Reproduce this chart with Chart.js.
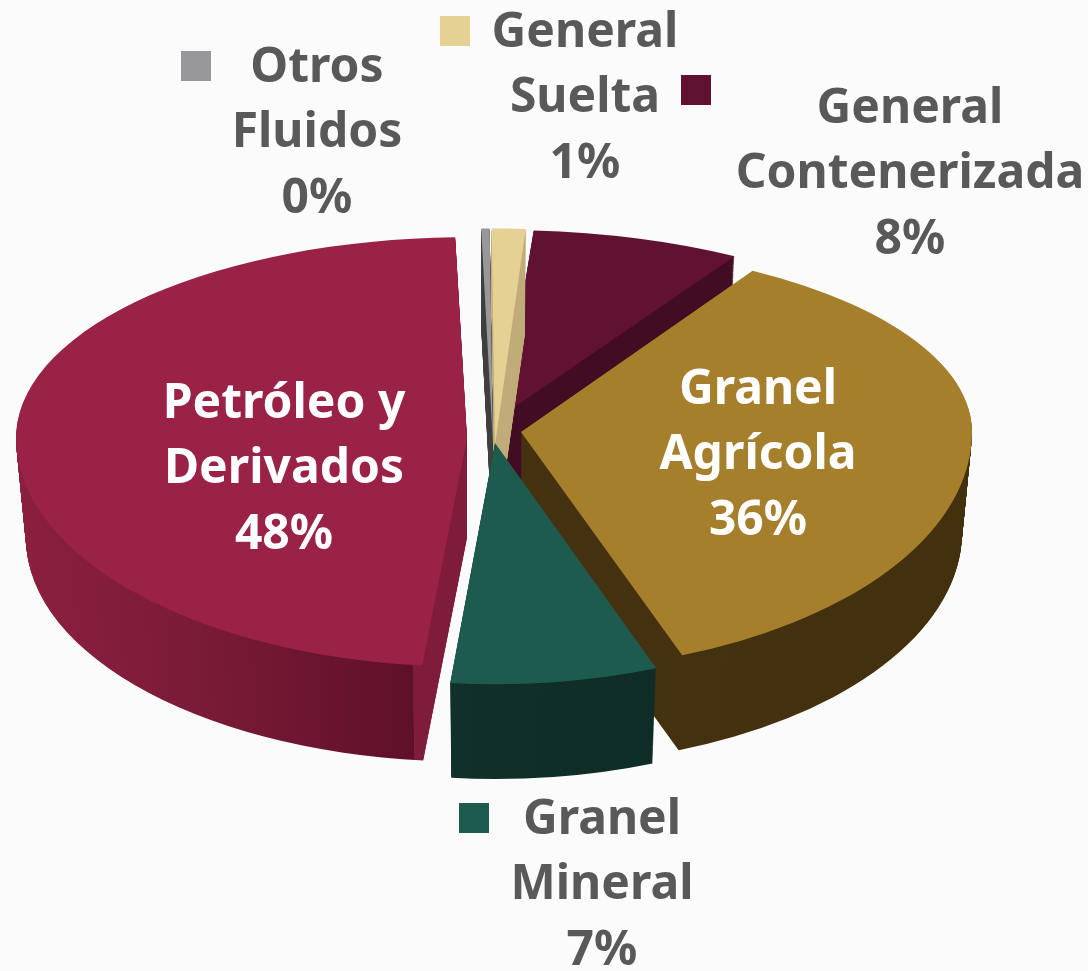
<!DOCTYPE html>
<html lang="es">
<head>
<meta charset="utf-8">
<title>Carga por tipo</title>
<script src="https://cdn.jsdelivr.net/npm/chart.js@4"></script>
<style>
    html, body { margin: 0; padding: 0; background: #fbfbfb; overflow: hidden; }
    canvas { display: block; }
</style>
</head>
<body>
<canvas id="pastel" width="1088" height="971"></canvas>
<script>
//Datos
const categorias = [
    ['Otros', 'Fluidos'],
    ['General', 'Suelta'],
    ['General', 'Contenerizada'],
    ['Granel', 'Agrícola'],
    ['Granel', 'Mineral'],
    ['Petróleo y', 'Derivados']
]
const valores = [0.3, 1.2, 7.5, 35.6, 7.4, 48]

//Colores
const colores = ['#98989a', '#e6d194', '#611232', '#a57f2c', '#1e5b4f', '#9b2247']
const coloresLabel = ['#595959', '#595959', '#595959', '#ffffff', '#595959', '#ffffff']

//Vista 3D: vertice de cada rebanada y aplastado arriba/abajo
const vista = [
    { ax: 493, ay: 445, kUp: 0.48, kDown: 0.52 },
    { ax: 495, ay: 445, kUp: 0.48, kDown: 0.52 },
    { ax: 503, ay: 415, kUp: 0.41, kDown: 0.52 },
    { ax: 521, ay: 432, kUp: 0.417, kDown: 0.53 },
    { ax: 495, ay: 443, kUp: 0.5, kDown: 0.535 },
    { ax: 467, ay: 438, kUp: 0.445, kDown: 0.507 }
]
const ordenDibujo = [2, 1, 0, 5, 3, 4]
const profundidad = 100
const encogeFondo = 0.978

//Textos: centro x, y de la primera linea; cuadro de leyenda
const textos = [
    { x: 317, y: 68, kx: 181, ky: 51 },
    { x: 585, y: 33, kx: 440, ky: 16 },
    { x: 910, y: 109, kx: 681, ky: 75 },
    { x: 758, y: 390, kx: 608, ky: 373 },
    { x: 602, y: 820, kx: 459, ky: 803 },
    { x: 284, y: 404, kx: 70, ky: 387 }
]
const altoLinea = 65.7

const canvas = document.getElementById('pastel')
const ctx0 = canvas.getContext('2d')

function gradiente(i, ax, cx) {
    //paredes laterales, los stops van en x de pantalla
    const paradas = [
        [['#3f3f40', 0], ['#3f3f40', 1]],
        [['#bfac78', 0], ['#bfac78', 1]],
        [['#420c22', 0], ['#420c22', 1]],
        [['#463211', 0], ['#43300f', 1]],
        [['#113029', 0], ['#0c2723', 1]],
        [['#8a1f3e', 0], ['#7a1b37', 0.45], ['#5f1029', 0.999], ['#801c3b', 1]]
    ][i]
    const rango = i === 5 ? [20, 413] : [440, 970]
    const g = ctx0.createLinearGradient(rango[0] - ax + cx, 0, rango[1] - ax + cx, 0)
    paradas.forEach(p => g.addColorStop(p[1], p[0]))
    return g
}

function dibujaCapa(ctx, el, v, dy, escala, color) {
    const opts = {
        backgroundColor: color, borderColor: 'transparent', borderWidth: 0, offset: 0,
        spacing: 0, borderRadius: 0, borderAlign: 'center', circular: true
    }
    const original = el.options
    el.options = opts
    const y0 = v.ay + dy
    ;[[0, y0, v.kUp], [y0, 971 - y0, v.kDown]].forEach(([top, alto, k]) => {
        ctx.save()
        ctx.beginPath()
        ctx.rect(0, top, 1088, alto)
        ctx.clip()
        ctx.translate(v.ax, y0)
        ctx.scale(escala, k * escala)
        ctx.translate(-el.x, -el.y)
        el.draw(ctx)
        ctx.restore()
    })
    el.options = original
}

const pastel3d = {
    id: 'pastel3d',
    beforeDatasetsDraw(chart) {
        const ctx = chart.ctx
        const arcos = chart.getDatasetMeta(0).data
        ordenDibujo.forEach(i => {
            const el = arcos[i]
            const v = vista[i]
            const pared = gradiente(i, v.ax, el.x)
            for (let t = profundidad; t > 0; t--) {
                const escala = 1 - (1 - encogeFondo) * t / profundidad
                dibujaCapa(ctx, el, v, t, escala, pared)
            }
            dibujaCapa(ctx, el, v, 0, 1, colores[i])
        })
        return false
    },
    afterDraw(chart) {
        const ctx = chart.ctx
        const total = valores.reduce((a, b) => a + b, 0)
        ctx.save()
        ctx.font = 'bold 48px "Noto Sans"'
        ctx.textAlign = 'center'
        ctx.textBaseline = 'middle'
        categorias.forEach((lineas, i) => {
            const t = textos[i]
            ctx.fillStyle = colores[i]
            ctx.fillRect(t.kx, t.ky, 30, 30)
            ctx.fillStyle = coloresLabel[i]
            const filas = lineas.concat(`${Math.round(valores[i] / total * 100)}%`)
            filas.forEach((txt, n) => ctx.fillText(txt, t.x, t.y + n * altoLinea))
        })
        ctx.restore()
    }
}

new Chart(canvas, {
    type: 'pie',
    data: {
        labels: categorias.map(c => c.join(' ')),
        datasets: [{
            data: valores,
            backgroundColor: colores,
            borderWidth: 0
        }]
    },
    options: {
        responsive: false,
        animation: false,
        rotation: -1.5,
        radius: 451,
        events: [],
        plugins: {
            legend: { display: false },
            tooltip: { enabled: false }
        }
    },
    plugins: [pastel3d]
})
</script>
</body>
</html>
